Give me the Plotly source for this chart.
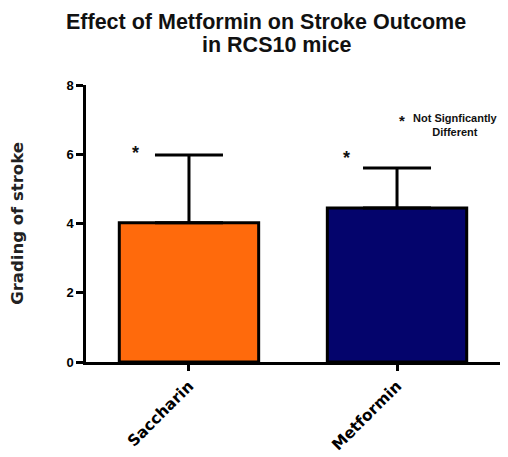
import plotly.graph_objects as go

categories = ["Saccharin", "Metformin"]
means = [4.02, 4.45]
sem_upper = [1.96, 1.15]
bar_colors = ["#FF6A0C", "#04046C"]
y_ticks = [0, 2, 4, 6, 8]

fig = go.Figure()
fig.add_trace(go.Bar(
    x=categories, y=means,
    marker=dict(color=bar_colors, line=dict(color="black", width=3)),
    width=0.67,
    error_y=dict(type="data", symmetric=False, array=sem_upper,
                 arrayminus=[0, 0], color="black", thickness=3, width=34),
    showlegend=False,
))

bold = "Liberation Sans"
# page body has an 8px default margin, so the figure is 500x449 inside the 508x457 window
fig.update_layout(
    width=500, height=449,
    margin=dict(l=78, r=8, t=77, b=95, autoexpand=False),
    paper_bgcolor="white", plot_bgcolor="white",
    bargap=0.33,
    xaxis=dict(range=[-0.495, 1.495], showline=True, linecolor="black", linewidth=2.5,
               ticks="outside", ticklen=6, tickwidth=2.5, tickcolor="black",
               tickangle=-45, automargin=False,
               tickfont=dict(family="DejaVu Sans", size=15.5, color="black", weight="bold"),
               showgrid=False, zeroline=False),
    yaxis=dict(range=[0, 8], tickvals=y_ticks, showline=True, linecolor="black", linewidth=2.5,
               ticks="outside", ticklen=7, tickwidth=2.5, tickcolor="black", automargin=False,
               tickfont=dict(family=bold, size=13, color="black", weight="bold"),
               title=dict(text="Grading of stroke", standoff=40,
                          font=dict(family="DejaVu Sans", size=16.5, color="#222", weight="bold")),
               showgrid=False, zeroline=False),
)

def note(x, y, text, size, xref="paper", yref="paper"):
    fig.add_annotation(x=x, y=y, xref=xref, yref=yref, xanchor="center", yanchor="middle",
                       text=text, showarrow=False, align="center",
                       font=dict(family=bold, size=size, color="#111"))

note(0.435, 1.2274, "<b>Effect of Metformin on Stroke Outcome</b>", 21.5)
note(0.459, 1.1444, "<b>in RCS10 mice</b>", 21.5)
note(-0.255, 6.05, "<b>*</b>", 18, "x", "y")
note(0.755, 5.9, "<b>*</b>", 18, "x", "y")
note(0.763, 0.872, "<b>*</b>", 15)
note(0.893, 0.854, "<b>Not Signficantly<br>Different</b>", 11)

fig.write_html("out.html")
